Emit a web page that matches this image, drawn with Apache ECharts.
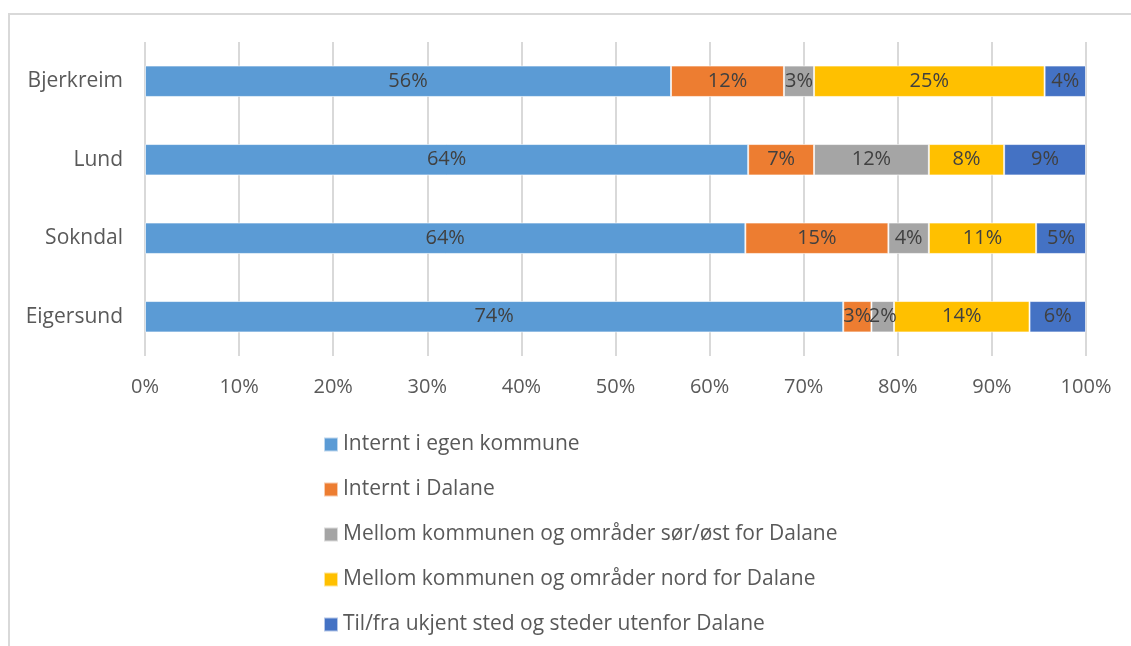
<!DOCTYPE html>
<html>
<head>
<meta charset="utf-8">
<script src="https://cdn.jsdelivr.net/npm/echarts@6/dist/echarts.min.js"></script>
<style>
  html, body { margin: 0; padding: 0; background: #fff; }
  #frame { position: absolute; left: 8px; top: 13px; width: 1140px; height: 660px;
           border-top: 2px solid #d9d9d9; border-left: 2px solid #d9d9d9; }
  #chart { position: absolute; left: 0; top: 0; width: 1131px; height: 646px; }
</style>
</head>
<body>
<div id="frame"></div>
<div id="chart"></div>
<script>
var categories = ['Bjerkreim', 'Lund', 'Sokndal', 'Eigersund'];
var legends = [
  'Internt i egen kommune',
  'Internt i Dalane',
  'Mellom kommunen og områder sør/øst for Dalane',
  'Mellom kommunen og områder nord for Dalane',
  'Til/fra ukjent sted og steder utenfor Dalane'
];
var colors = ['#5B9BD5', '#ED7D31', '#A5A5A5', '#FFC000', '#4472C4'];

// shares per series, in order of categories (top to bottom)
var egenKommune = [55.9, 64.1, 63.8, 74.2];
var internDalane = [12.0, 7.0, 15.2, 3.0];
var sorOst = [3.2, 12.2, 4.3, 2.4];
var nord = [24.5, 8.0, 11.4, 14.4];
var ukjent = [4.4, 8.7, 5.3, 6.0];
var seriesData = [egenKommune, internDalane, sorOst, nord, ukjent];

var fontFamily = '"Open Sans", sans-serif';

var series = [];
for (var i = 0; i < legends.length; i++) {
  series.push({
    name: legends[i],
    type: 'bar',
    stack: 'total',
    barCategoryGap: '60%',
    data: seriesData[i],
    itemStyle: { color: colors[i], borderColor: 'rgba(255,255,255,0.6)', borderWidth: 1 },
    label: {
      show: true,
      position: 'inside',
      color: '#404040',
      fontSize: 20,
      fontFamily: fontFamily,
      formatter: function (p) { return Math.round(p.value) + '%'; }
    }
  });
}

var myChart = echarts.init(document.getElementById('chart'));
myChart.setOption({
  animation: false,
  grid: { left: 145, right: 45, top: 42, bottom: 290, containLabel: false },
  legend: {
    data: legends,
    orient: 'vertical',
    left: 318,
    top: 429,
    itemGap: 24,
    itemWidth: 14,
    itemHeight: 14,
    icon: 'rect',
    textStyle: { color: '#595959', fontSize: 21, fontFamily: fontFamily }
  },
  xAxis: {
    type: 'value',
    min: 0,
    max: 100,
    interval: 10,
    axisLine: { show: false },
    axisTick: { show: false },
    splitLine: { lineStyle: { color: '#d9d9d9', width: 2 } },
    axisLabel: {
      color: '#595959', fontSize: 20, fontFamily: fontFamily, margin: 21,
      formatter: '{value}%'
    }
  },
  yAxis: {
    type: 'category',
    inverse: true,
    data: categories,
    axisLine: { show: false },
    axisTick: { show: false },
    axisLabel: { color: '#595959', fontSize: 21, fontFamily: fontFamily, margin: 22 }
  },
  series: series
});
</script>
</body>
</html>
